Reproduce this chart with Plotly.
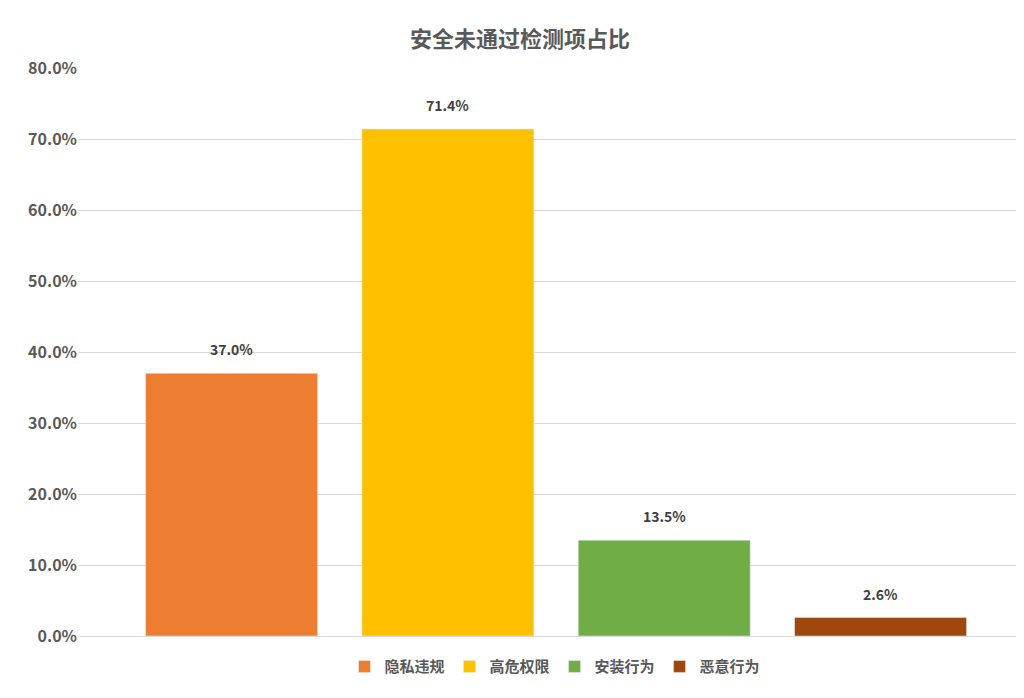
import plotly.graph_objects as go

categories = ["隐私违规", "高危权限", "安装行为", "恶意行为"]
values = [37.0, 71.4, 13.5, 2.6]
colors = ["#ED7D31", "#FFC000", "#70AD47", "#9E480E"]
yticks = [0, 10, 20, 30, 40, 50, 60, 70, 80]

fig = go.Figure()
for i, (c, v, col) in enumerate(zip(categories, values, colors)):
    fig.add_trace(go.Bar(x=[i], y=[v], name=c, marker_color=col, width=0.795))
    fig.add_annotation(x=i, y=v, text=f"<b>{v:.1f}%</b>", showarrow=False,
                       yanchor="bottom", yshift=12,
                       font=dict(size=14, color="#404040"))

fig.update_layout(
    width=1024, height=698,
    margin=dict(l=70, r=0, t=60, b=70),
    paper_bgcolor="white", plot_bgcolor="white",
    barmode="overlay",
    font=dict(family="Noto Sans CJK SC", color="#595959"),
    title=dict(text="<b>安全未通过检测项占比</b>", x=0.5, xanchor="center",
               y=0.955, yanchor="middle", font=dict(size=22, color="#595959")),
    xaxis=dict(range=[-0.71, 3.70], showticklabels=False, showgrid=False,
               zeroline=False, showline=True, linecolor="#D9D9D9"),
    yaxis=dict(range=[0, 80], tickvals=yticks,
               ticktext=[f"<b>{t:.1f}%</b>" for t in yticks],
               tickfont=dict(size=16, color="#595959"),
               gridcolor="#D9D9D9", zeroline=False, ticklen=0, ticks=""),
    legend=dict(orientation="h", x=0.5, xanchor="center", y=-0.025, yanchor="top",
                font=dict(size=15, color="#595959"), itemwidth=30),
    showlegend=True,
)
for tr in fig.data:
    tr.name = f"<b>{tr.name}</b>"
fig.write_html("out.html")
